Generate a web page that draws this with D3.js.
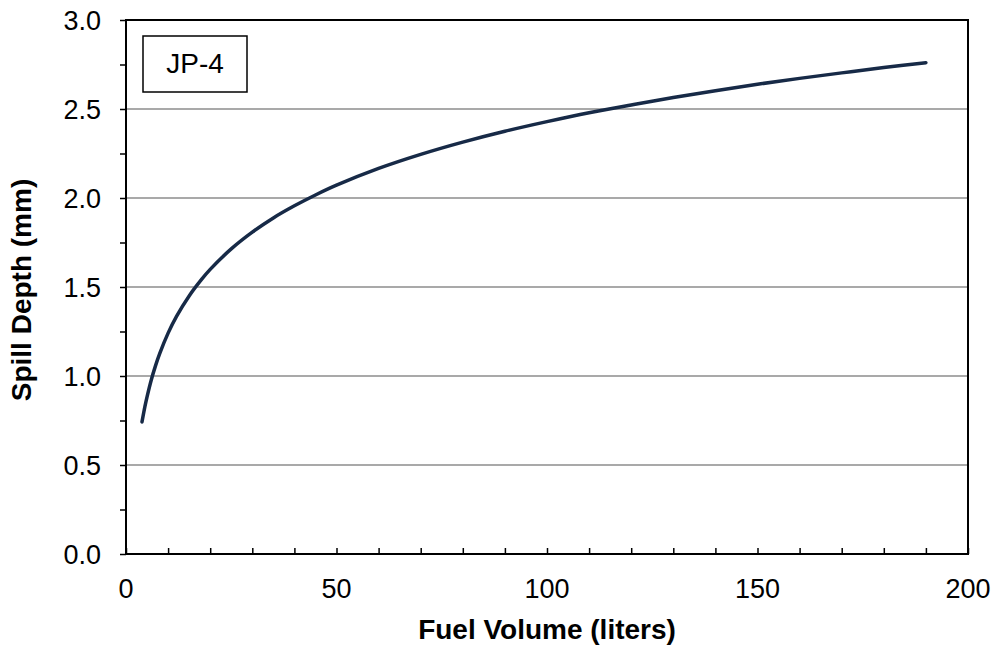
<html lang='eng'>
    <head>
        <title>Spill Depth</title>
        <script src="https://d3js.org/d3.v7.min.js" charset="utf-8"></script>
        <style>
        body{
          margin: 0;
          font-family: "Liberation Sans", Arial, sans-serif;
          background: white;
        }
        </style>
    </head>
    <body>
        <script>
            // data
            var volumes = [3.8, 4.5, 5, 6, 7, 8, 10, 12, 15, 18, 20, 25, 30, 35, 40, 45, 50,
                           60, 70, 80, 90, 100, 110, 120, 130, 140, 150, 160, 170, 180, 190];
            var depths  = [0.742, 0.829, 0.883, 0.978, 1.057, 1.126, 1.241, 1.335, 1.450, 1.544, 1.599,
                           1.714, 1.808, 1.888, 1.956, 2.017, 2.072,
                           2.166, 2.245, 2.314, 2.375, 2.429, 2.479, 2.523, 2.565, 2.603, 2.639,
                           2.672, 2.703, 2.733, 2.760];
            var xTicks = [0, 50, 100, 150, 200];
            var yTicks = [0, 0.5, 1.0, 1.5, 2.0, 2.5, 3.0];
            var fuelLabel = "JP-4";

            var width = 995, height = 647;
            var margin = {left: 126, right: 27, top: 20, bottom: 93};

            var svg = d3.select("body").append("svg")
                        .attr("width", width)
                        .attr("height", height);

            var x = d3.scaleLinear().domain([0, 200]).range([margin.left, width - margin.right]);
            var y = d3.scaleLinear().domain([0, 3]).range([height - margin.bottom, margin.top]);

            //gridlines
            svg.append("g")
               .selectAll("line")
               .data(yTicks.filter(function(d){ return d > 0 && d < 3; }))
               .enter().append("line")
               .attr("x1", x(0)).attr("x2", x(200))
               .attr("y1", function(d){ return y(d); })
               .attr("y2", function(d){ return y(d); })
               .attr("stroke", "#8c8c8c")
               .attr("stroke-width", 1.5);

            //y axis: ticks outside, minor every 0.25
            var yAxis = svg.append("g")
               .attr("transform", "translate(" + x(0) + ",0)")
               .call(d3.axisLeft(y).tickValues(d3.range(0, 3.01, 0.25)).tickSize(6).tickFormat(""));
            yAxis.select(".domain").remove();
            yAxis.selectAll("line").attr("stroke", "#000").attr("stroke-width", 1.5);

            svg.append("g").selectAll("text")
               .data(yTicks)
               .enter().append("text")
               .attr("x", 101)
               .attr("y", function(d){ return y(d); })
               .attr("dy", "0.36em")
               .attr("text-anchor", "end")
               .attr("font-size", 27)
               .text(function(d){ return d3.format(".1f")(d); });

            //x axis: ticks inside, minor every 10
            var xAxis = svg.append("g")
               .attr("transform", "translate(0," + y(0) + ")")
               .call(d3.axisTop(x).tickValues(d3.range(0, 201, 10)).tickSize(6).tickFormat(""));
            xAxis.select(".domain").remove();
            xAxis.selectAll("line").attr("stroke", "#000").attr("stroke-width", 1.5);

            svg.append("g").selectAll("text")
               .data(xTicks)
               .enter().append("text")
               .attr("x", function(d){ return x(d); })
               .attr("y", y(0) + 44)
               .attr("text-anchor", "middle")
               .attr("font-size", 27)
               .text(function(d){ return d; });

            //frame
            svg.append("rect")
               .attr("x", x(0)).attr("y", y(3))
               .attr("width", x(200) - x(0))
               .attr("height", y(0) - y(3))
               .attr("fill", "none")
               .attr("stroke", "#000")
               .attr("stroke-width", 2);

            //curve
            var line = d3.line()
                         .x(function(d){ return x(d[0]); })
                         .y(function(d){ return y(d[1]); })
                         .curve(d3.curveCatmullRom);

            svg.append("path")
               .datum(volumes.map(function(v, i){ return [v, depths[i]]; }))
               .attr("d", line)
               .attr("fill", "none")
               .attr("stroke", "#172a47")
               .attr("stroke-width", 3.5)
               .attr("stroke-linecap", "round");

            //label box
            svg.append("rect")
               .attr("x", 143).attr("y", 36)
               .attr("width", 104).attr("height", 56)
               .attr("fill", "white")
               .attr("stroke", "#000")
               .attr("stroke-width", 1.5);
            svg.append("text")
               .attr("x", 195).attr("y", 73)
               .attr("text-anchor", "middle")
               .attr("font-size", 28)
               .text(fuelLabel);

            //axis titles
            svg.append("text")
               .attr("x", (x(0) + x(200)) / 2)
               .attr("y", 639)
               .attr("text-anchor", "middle")
               .attr("font-size", 28)
               .attr("font-weight", "bold")
               .text("Fuel Volume (liters)");

            svg.append("text")
               .attr("transform", "translate(31,290) rotate(-90)")
               .attr("text-anchor", "middle")
               .attr("font-size", 28)
               .attr("font-weight", "bold")
               .text("Spill Depth (mm)");
        </script>
    </body>
</html>
